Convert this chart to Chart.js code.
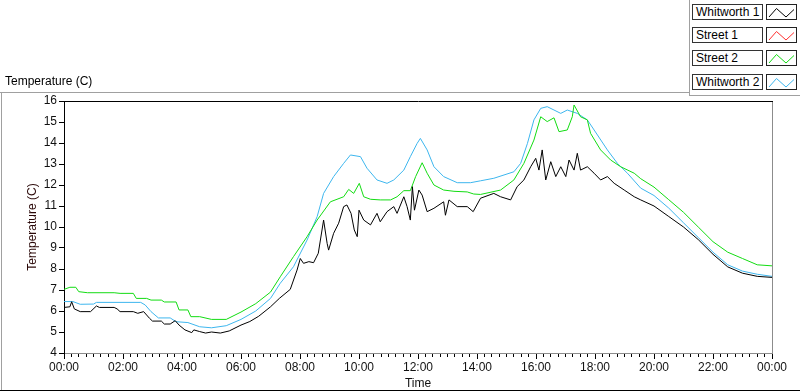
<!DOCTYPE html>
<html>
<head>
<meta charset="utf-8">
<script src="https://cdn.jsdelivr.net/npm/chart.js@4.4.1/dist/chart.umd.min.js"></script>
<style>
body { margin: 0; background: #fff; }
#wrap { position: relative; width: 800px; height: 392px; overflow: hidden;
        font-family: "Liberation Sans", Arial, sans-serif; font-size: 12px; color: #000; }
#wrap canvas { position: absolute; left: 0; top: 0; }
.ln { position: absolute; background: #a0a0a0; }
#topTitle { position: absolute; left: 5px; top: 74px; white-space: nowrap; }
.lab { position: absolute; left: 692px; width: 71px; height: 16px; box-sizing: border-box;
       border: 1px solid #333; padding-left: 3px; line-height: 14px; white-space: nowrap; background: #fff; }
.ico { position: absolute; left: 766px; width: 31px; height: 16px; box-sizing: border-box;
       border: 1px solid #222; background: #fff; }
</style>
</head>
<body>
<div id="wrap">
  <canvas id="c" width="800" height="392"></canvas>
  <div class="ln" style="left:0;top:92px;width:690px;height:1px"></div>
  <div class="ln" style="left:689px;top:0;width:1px;height:96px"></div>
  <div class="ln" style="left:689px;top:95px;width:111px;height:1px"></div>
  <div class="ln" style="left:1px;top:92px;width:1px;height:298px"></div>
  <div class="ln" style="left:0;top:390px;width:800px;height:1px;background:#000"></div>
  <div id="topTitle">Temperature (C)</div>
  <div id="legend"></div>
</div>
<script>
// series names / colours
const seriesNames = ['Whitworth 1', 'Street 1', 'Street 2', 'Whitworth 2'];
const seriesColors = ['#000000', '#ff3030', '#12dc12', '#3db6ee'];

// x ticks (hours)
const xTickStep = 0.25;
const xLabelEvery = 2;

// Whitworth 1 (black)
const w1Hours = [0, 0.2, 0.26, 0.35, 0.55, 0.9, 1.1, 1.2, 1.7, 1.8, 1.9, 2.35, 2.5, 2.7, 2.9, 3.0, 3.3, 3.4, 3.6, 3.77,
  3.9, 4.1, 4.33, 4.4, 4.6, 4.8, 5.0, 5.3, 5.6, 6.0, 6.3, 6.6, 7.0, 7.3, 7.67, 7.9, 8.01, 8.12, 8.3, 8.46,
  8.62, 8.8, 8.92, 8.97, 9.14, 9.31, 9.48, 9.59, 9.73, 9.84, 9.94, 10.0, 10.16, 10.39, 10.61, 10.72, 10.95, 11.18, 11.29, 11.52,
  11.63, 11.74, 11.81, 11.88, 12.03, 12.14, 12.31, 12.54, 12.87, 12.93, 13.05, 13.33, 13.67, 13.87, 14.12, 14.57, 14.8, 15.14, 15.36, 15.59,
  15.82, 15.99, 16.1, 16.21, 16.33, 16.5, 16.67, 16.84, 17.01, 17.12, 17.29, 17.4, 17.51, 17.74, 17.97, 18.19, 18.42, 18.65, 18.99, 19.33,
  19.55, 20.0, 20.5, 21.0, 21.5, 22.0, 22.5, 23.0, 23.5, 24.0];
const w1Temp = [6.17, 6.2, 6.44, 6.1, 5.97, 5.97, 6.24, 6.17, 6.17, 6.1, 5.97, 5.97, 5.89, 5.97, 5.65, 5.52, 5.52, 5.38, 5.38, 5.54,
  5.33, 5.1, 4.97, 5.1, 5.02, 4.95, 5.0, 4.95, 5.05, 5.33, 5.5, 5.75, 6.2, 6.6, 7.03, 7.95, 8.5, 8.27, 8.35, 8.3,
  8.75, 10.33, 9.22, 8.9, 9.7, 10.18, 10.97, 11.05, 10.65, 9.86, 9.54, 10.8, 10.33, 10.1, 10.65, 10.25, 10.73, 10.97, 10.65, 11.44,
  10.97, 10.33, 11.92, 10.8, 11.76, 11.52, 10.73, 10.89, 11.2, 10.56, 11.29, 10.97, 10.97, 10.73, 11.37, 11.6, 11.44, 11.29, 11.92, 12.24,
  12.87, 13.27, 12.71, 13.67, 12.24, 13.11, 12.4, 12.87, 12.4, 13.19, 12.71, 13.51, 12.71, 12.87, 12.56, 12.24, 12.4, 12.08, 11.76, 11.44,
  11.29, 11.0, 10.5, 10.0, 9.4, 8.7, 8.1, 7.8, 7.65, 7.6];

// Street 1 (red) - no samples visible
const s1Hours = [];
const s1Temp = [];

// Street 2 (green)
const s2Hours = [0, 0.2, 0.4, 0.5, 0.8, 1.7, 1.9, 2.35, 2.45, 2.8, 2.95, 3.3, 3.4, 3.8, 3.9, 4.2, 4.3, 4.6, 5.0, 5.5,
  6.0, 6.5, 7.0, 7.33, 7.78, 8.24, 8.58, 9.03, 9.48, 9.65, 9.82, 10.01, 10.16, 10.39, 10.72, 11.07, 11.29, 11.52, 11.74, 11.92,
  12.14, 12.31, 12.54, 12.87, 13.22, 13.67, 13.89, 14.12, 14.8, 15.25, 15.59, 15.93, 16.16, 16.38, 16.61, 16.78, 17.06, 17.23, 17.29, 17.51,
  17.74, 17.85, 18.19, 18.53, 18.87, 19.33, 19.55, 20.0, 20.5, 21.0, 21.5, 22.0, 22.5, 23.0, 23.5, 24.0];
const s2Temp = [7.03, 7.13, 7.13, 6.92, 6.87, 6.87, 6.84, 6.84, 6.6, 6.6, 6.52, 6.52, 6.43, 6.43, 6.05, 6.05, 5.73, 5.73, 5.6, 5.6,
  5.95, 6.35, 6.9, 7.63, 8.59, 9.54, 10.33, 11.2, 11.44, 11.79, 11.6, 12.08, 11.44, 11.32, 11.29, 11.29, 11.44, 11.73, 11.73, 12.4,
  13.06, 12.56, 12.0, 11.76, 11.7, 11.67, 11.57, 11.55, 11.76, 12.24, 13.03, 14.14, 15.25, 15.02, 15.2, 14.54, 14.62, 15.25, 15.81, 15.25,
  15.1, 14.46, 13.67, 13.19, 12.87, 12.56, 12.3, 11.9, 11.3, 10.7, 10.0, 9.3, 8.8, 8.5, 8.2, 8.15];

// Whitworth 2 (light blue)
const w2Hours = [0, 0.3, 0.55, 1.0, 1.1, 2.6, 2.75, 2.95, 3.2, 3.6, 3.8, 4.2, 4.6, 5.0, 5.5, 6.0, 6.5, 7.0, 7.33, 7.78,
  8.24, 8.58, 8.8, 9.14, 9.48, 9.71, 10.05, 10.27, 10.61, 10.95, 11.18, 11.52, 11.74, 11.97, 12.08, 12.31, 12.54, 12.87, 13.33, 13.78,
  14.12, 14.57, 15.25, 15.48, 15.71, 15.93, 16.16, 16.38, 16.61, 16.84, 17.06, 17.4, 17.74, 17.97, 18.42, 18.76, 19.1, 19.55, 20.0, 20.5,
  21.0, 21.5, 22.0, 22.5, 23.0, 23.5, 24.0];
const w2Temp = [6.45, 6.45, 6.32, 6.33, 6.41, 6.41, 6.29, 5.97, 5.67, 5.67, 5.49, 5.45, 5.25, 5.2, 5.3, 5.6, 6.0, 6.6, 7.32, 8.11,
  9.38, 10.49, 11.6, 12.4, 13.03, 13.43, 13.35, 12.8, 12.24, 12.08, 12.24, 12.71, 13.35, 13.98, 14.22, 13.67, 12.87, 12.4, 12.11, 12.11,
  12.2, 12.32, 12.63, 13.03, 13.98, 15.1, 15.65, 15.73, 15.57, 15.41, 15.57, 15.41, 15.1, 14.62, 13.67, 13.03, 12.56, 11.85, 11.5, 10.9,
  10.2, 9.5, 8.8, 8.2, 7.9, 7.75, 7.65];

const seriesHours = [w1Hours, s1Hours, s2Hours, w2Hours];
const seriesTemp = [w1Temp, s1Temp, s2Temp, w2Temp];

const FONT = { family: '"Liberation Sans", Arial, sans-serif', size: 12 };

// legend
const legend = document.getElementById('legend');
const rowTops = [4, 27, 50, 74];
seriesNames.forEach(function(name, i) {
    const lab = document.createElement('div');
    lab.className = 'lab';
    lab.style.top = rowTops[i] + 'px';
    lab.textContent = name;
    legend.appendChild(lab);
    const ico = document.createElementNS('http://www.w3.org/2000/svg', 'svg');
    ico.setAttribute('class', 'ico');
    ico.style.top = rowTops[i] + 'px';
    ico.innerHTML = '<polyline points="2,12 9.5,3.5 19,12 27,4.5" fill="none" stroke="' +
        seriesColors[i] + '" stroke-width="1"/>';
    legend.appendChild(ico);
});

// top + right border of the plot
const plotFrame = {
    id: 'plotFrame',
    afterDraw(chart) {
        const ctx = chart.ctx, a = chart.chartArea;
        ctx.save();
        ctx.lineWidth = 1;
        ctx.strokeStyle = '#000';
        ctx.beginPath();
        ctx.moveTo(a.left, a.top + 0.5);
        ctx.lineTo(a.right + 1, a.top + 0.5);
        ctx.stroke();
        ctx.strokeStyle = '#8c8c8c';
        ctx.beginPath();
        ctx.moveTo(a.right + 0.5, a.top + 1);
        ctx.lineTo(a.right + 0.5, a.bottom);
        ctx.stroke();
        ctx.restore();
    }
};

const datasets = seriesNames.map(function(name, i) {
    return {
        label: name,
        data: seriesHours[i].map(function(h, j) { return { x: h, y: seriesTemp[i][j] }; }),
        borderColor: seriesColors[i],
        backgroundColor: seriesColors[i],
        borderWidth: 1,
        pointRadius: 0,
        tension: 0,
        fill: false
    };
});

new Chart(document.getElementById('c'), {
    type: 'line',
    data: { datasets: datasets },
    options: {
        responsive: false,
        animation: false,
        layout: { padding: { top: 101, right: 28, left: 0, bottom: 0 } },
        plugins: { legend: { display: false }, tooltip: { enabled: false } },
        scales: {
            x: {
                type: 'linear',
                min: 0,
                max: 24,
                afterFit: function(s) { s.height = 39; },
                ticks: {
                    stepSize: xTickStep,
                    autoSkip: false,
                    maxRotation: 0,
                    padding: 1,
                    color: '#111',
                    font: FONT,
                    callback: function(v) {
                        if (v % xLabelEvery !== 0) return '';
                        const h = v % 24;
                        return (h < 10 ? '0' : '') + h + ':00';
                    }
                },
                grid: {
                    drawOnChartArea: false,
                    tickLength: 6,
                    tickColor: '#000',
                    tickBorderDash: function(c) {
                        return (c.tick && c.tick.value % xLabelEvery === 0) ? [] : [3, 20];
                    }
                },
                border: { color: '#8c8c8c' },
                title: { display: true, text: 'Time', color: '#111', font: FONT, padding: { top: 0, bottom: 1 } }
            },
            y: {
                min: 4,
                max: 16,
                afterFit: function(s) { s.width = 64; },
                ticks: { stepSize: 1, padding: 2, color: '#111', font: FONT },
                grid: { drawOnChartArea: false, tickLength: 5, tickColor: '#000' },
                border: { color: '#000' },
                title: { display: true, text: 'Temperature (C)', color: '#2a0808', font: FONT, padding: { top: 25, bottom: 0 } }
            }
        }
    },
    plugins: [plotFrame]
});
</script>
</body>
</html>
